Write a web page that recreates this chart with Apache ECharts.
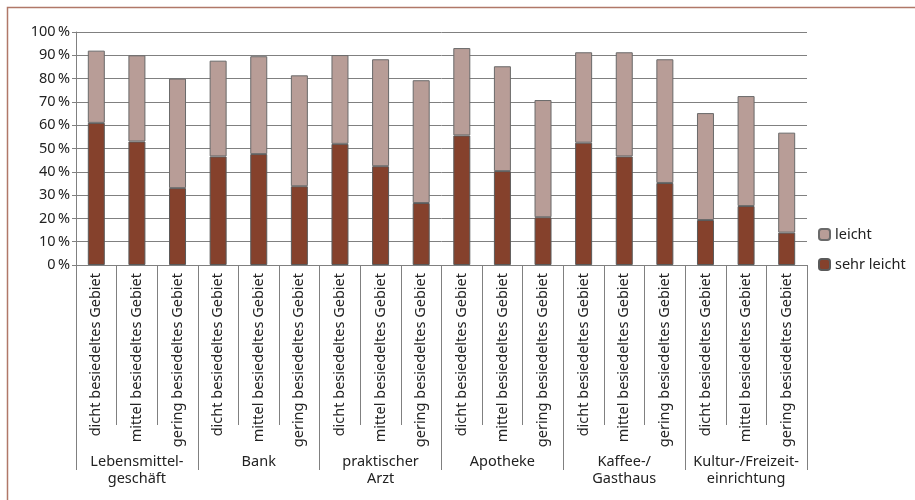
<!DOCTYPE html>
<html>
<head>
<meta charset="utf-8">
<script src="https://cdn.jsdelivr.net/npm/echarts@6/dist/echarts.min.js"></script>
<style>html,body{margin:0;padding:0;background:#fff}#c{width:915px;height:500px}</style>
</head>
<body>
<div id="c"></div>
<script>
const groups = ['Lebensmittel-\ngeschäft', 'Bank', 'praktischer\nArzt', 'Apotheke', 'Kaffee-/\nGasthaus', 'Kultur-/Freizeit-\neinrichtung'];
const areas = ['dicht besiedeltes Gebiet', 'mittel besiedeltes Gebiet', 'gering besiedeltes Gebiet'];
const yTicks = [0, 10, 20, 30, 40, 50, 60, 70, 80, 90, 100];
const sehrLeicht = [61, 53, 33, 46.6, 47.6, 33.8, 52, 42.4, 26.6, 55.6, 40.3, 20.5, 52.5, 46.6, 35.2, 19.3, 25.3, 13.9];
const leicht = [31, 37, 47, 41.1, 42, 47.6, 38.1, 45.9, 52.7, 37.5, 45, 50.3, 38.8, 44.7, 53.1, 45.9, 47.2, 42.9];

const cats = [];
groups.forEach(() => areas.forEach(a => cats.push(a)));

const font = 'Noto Sans';
const fs = 14.5;
const chart = echarts.init(document.getElementById('c'));
chart.setOption({
  animation: false,
  textStyle: { fontFamily: font },
  grid: { left: 76, right: 108, top: 32, bottom: 235 },
  graphic: [
    { type: 'polyline', shape: { points: [[7.5, 500], [7.5, 7.5], [915, 7.5]] }, style: { stroke: '#b07868', lineWidth: 1.5, fill: null } }
  ],
  legend: {
    orient: 'vertical', left: 813, top: 222, itemWidth: 11, itemHeight: 11, itemGap: 15,
    textStyle: { fontFamily: font, fontSize: fs, color: '#222' },
    data: ['leicht', 'sehr leicht']
  },
  xAxis: [
    {
      type: 'category', data: cats, position: 'bottom',
      axisLine: { show: false },
      axisTick: { show: true, interval: 0, length: 160, lineStyle: { color: '#808080' } },
      axisLabel: { interval: 0, rotate: 90, margin: 8, fontSize: fs, color: '#222', fontFamily: font }
    },
    {
      type: 'category', data: groups, position: 'bottom',
      axisLine: { show: false },
      axisTick: { show: true, interval: 0, length: 205, lineStyle: { color: '#808080' } },
      axisLabel: { interval: 0, margin: 188, fontSize: fs, lineHeight: 17, color: '#222', fontFamily: font, verticalAlign: 'top' }
    }
  ],
  yAxis: {
    type: 'value', min: 0, max: 100, interval: 10,
    axisLine: { show: true, lineStyle: { color: '#808080' } },
    axisTick: { show: true, length: 4, lineStyle: { color: '#808080' } },
    splitLine: { lineStyle: { color: '#808080', width: 1 } },
    axisLabel: { formatter: v => v + '\u2009%', fontSize: fs, color: '#222', margin: 6, fontFamily: font }
  },
  series: [
    {
      name: 'sehr leicht', type: 'bar', stack: 's', data: sehrLeicht, barWidth: 17, xAxisIndex: 0,
      itemStyle: { color: '#85412c', borderColor: '#5a5a5a', borderWidth: 1 }
    },
    {
      name: 'leicht', type: 'bar', stack: 's', data: leicht, barWidth: 17, xAxisIndex: 0,
      itemStyle: { color: '#b89d97', borderColor: '#6a6a6a', borderWidth: 1 }
    }
  ]
});
</script>
</body>
</html>
